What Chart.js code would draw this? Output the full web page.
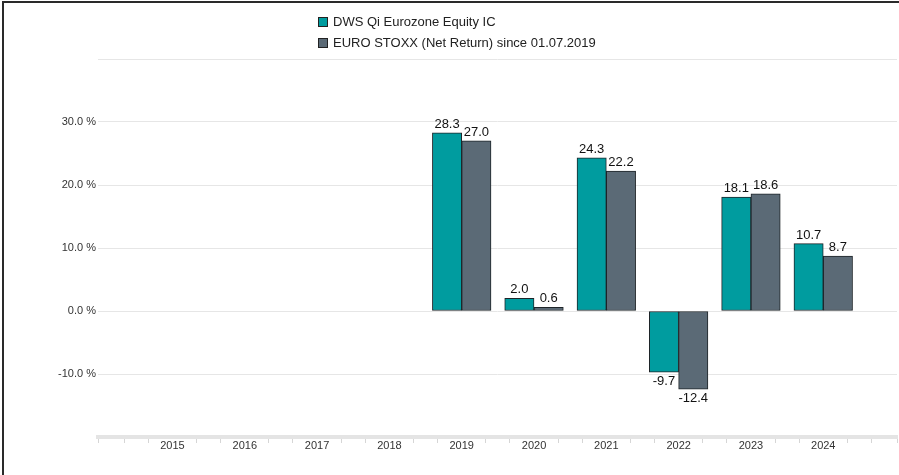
<!DOCTYPE html>
<html>
<head>
<meta charset="utf-8">
<script src="https://cdn.jsdelivr.net/npm/chart.js@4.4.1/dist/chart.umd.min.js"></script>
<style>
  body { margin: 0; background: #fff; overflow: hidden; }
  #frame { position: absolute; left: 2px; top: 1px; width: 920px; height: 500px; border-left: 2px solid #2a2a2a; border-top: 2px solid #2a2a2a; }
  #wrap { position: absolute; left: 0; top: 0; width: 899px; height: 475px; }
  #legend { position: absolute; left: 318px; top: 11px; font: 13px 'Liberation Sans', Arial, sans-serif; color: #222; }
  #legend div { height: 21px; line-height: 21px; white-space: nowrap; }
  #legend .box { display: inline-block; width: 8px; height: 8px; border: 1px solid #222; margin-right: 5px; vertical-align: -1px; }
</style>
</head>
<body>
<div id="frame"></div>
<div id="wrap"><canvas id="bar-chart" width="899" height="475"></canvas></div>
<div id="legend"></div>
<script>
// yearly performance in %
var years = [2015, 2016, 2017, 2018, 2019, 2020, 2021, 2022, 2023, 2024];
var fundValues = [null, null, null, null, 28.3, 2.0, 24.3, -9.7, 18.1, 10.7];
var indexValues = [null, null, null, null, 27.0, 0.6, 22.2, -12.4, 18.6, 8.7];
var seriesNames = ['DWS Qi Eurozone Equity IC', 'EURO STOXX (Net Return) since 01.07.2019'];
var seriesColors = ['#009c9f', '#5b6a76'];
var yTickLabels = [-10, 0, 10, 20, 30];

function points(values) {
    var out = [];
    years.forEach(function(yr, i) {
        if (values[i] !== null) out.push({ x: yr, y: values[i] });
    });
    return out;
}

// legend, two rows like the original
var legendHtml = '';
seriesNames.forEach(function(name, i) {
    legendHtml += '<div><span class="box" style="background:' + seriesColors[i] + '"></span>' + name + '</div>';
});
document.getElementById('legend').innerHTML = legendHtml;

Chart.defaults.font.family = "'Liberation Sans', Arial, sans-serif";
Chart.defaults.font.size = 11;
Chart.defaults.color = '#333';

// numbers above / below the bars
var valueLabels = {
    id: 'valueLabels',
    afterDatasetsDraw: function(chart) {
        var ctx = chart.ctx;
        ctx.save();
        ctx.font = "13px 'Liberation Sans', Arial, sans-serif";
        ctx.fillStyle = '#111';
        ctx.textAlign = 'center';
        chart.data.datasets.forEach(function(ds, i) {
            chart.getDatasetMeta(i).data.forEach(function(bar, j) {
                var v = ds.data[j].y;
                if (v >= 0) {
                    ctx.textBaseline = 'bottom';
                    ctx.fillText(v.toFixed(1), bar.x, bar.y - 2);
                } else {
                    ctx.textBaseline = 'top';
                    ctx.fillText(v.toFixed(1), bar.x, bar.y + 3);
                }
            });
        });
        ctx.restore();
    }
};

function isWhole(v) {
    return Math.abs(v - Math.round(v)) < 0.01;
}

new Chart(document.getElementById('bar-chart'), {
    type: 'bar',
    data: {
        datasets: [{
            label: seriesNames[0],
            data: points(fundValues),
            backgroundColor: seriesColors[0],
            borderColor: '#1e2428',
            borderWidth: 1,
            borderSkipped: false
        }, {
            label: seriesNames[1],
            data: points(indexValues),
            backgroundColor: seriesColors[1],
            borderColor: '#1e2428',
            borderWidth: 1,
            borderSkipped: false
        }]
    },
    options: {
        responsive: false,
        animation: false,
        barThickness: 29.3,
        layout: {
            padding: { top: 59, right: 2, left: 0, bottom: 0 }
        },
        plugins: {
            legend: { display: false },
            tooltip: { enabled: false }
        },
        scales: {
            x: {
                type: 'linear',
                offset: false,
                min: 2013.97,
                max: 2025.02,
                afterFit: function(s) {
                    s.height = 38;
                    s.paddingLeft = 0;
                    s.paddingRight = 0;
                },
                border: { color: '#e4e4e4', width: 4 },
                grid: {
                    offset: false,
                    drawOnChartArea: false,
                    tickLength: 6,
                    color: function(c) {
                        return (c.tick && isWhole(c.tick.value)) ? 'rgba(0,0,0,0)' : '#d6d6d6';
                    }
                },
                ticks: {
                    stepSize: 1 / 3,
                    autoSkip: false,
                    maxRotation: 0,
                    padding: -4,
                    color: '#333',
                    callback: function(v) {
                        var r = Math.round(v);
                        return (isWhole(v) && years.indexOf(r) >= 0) ? String(r) : '';
                    }
                }
            },
            y: {
                min: -20,
                max: 40,
                afterFit: function(s) {
                    s.width = 98;
                    s.paddingTop = 0;
                    s.paddingBottom = 0;
                },
                border: { display: false },
                grid: { color: '#e6e6e6', drawTicks: false },
                ticks: {
                    stepSize: 10,
                    padding: 2,
                    color: '#333',
                    callback: function(v) {
                        return yTickLabels.indexOf(v) >= 0 ? v.toFixed(1) + ' %' : '';
                    }
                }
            }
        }
    },
    plugins: [valueLabels]
});
</script>
</body>
</html>
